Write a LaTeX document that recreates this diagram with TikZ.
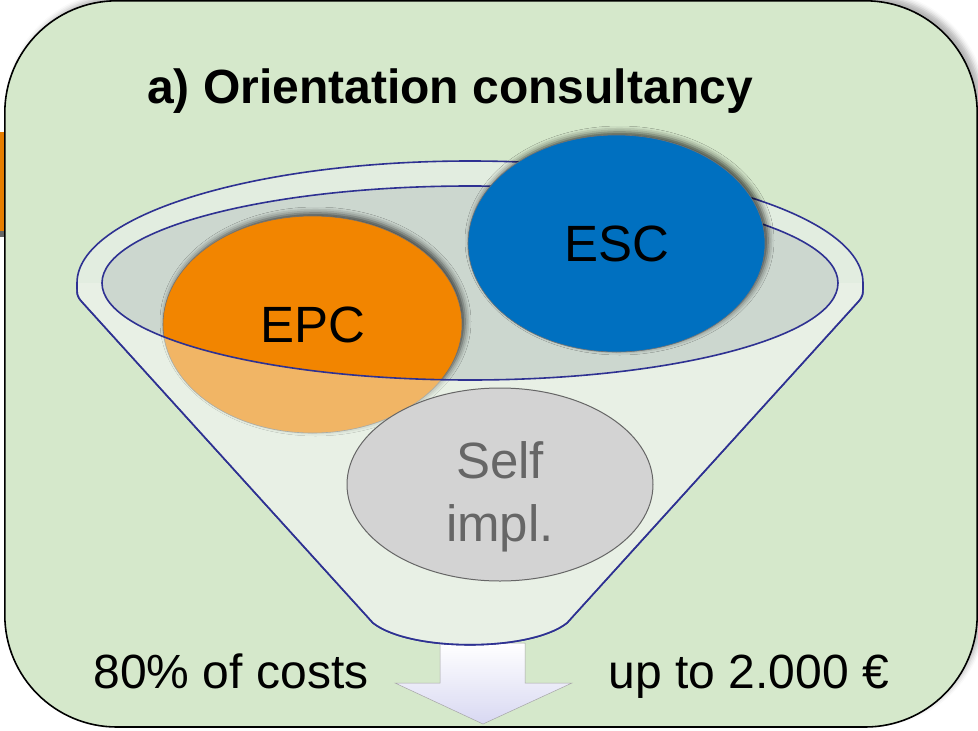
\documentclass[tikz,border=0pt]{standalone}
\usepackage{fontspec}
\setmainfont{Liberation Sans}
\usepackage{tikz}
\usetikzlibrary{shapes,shadows.blur}
\definecolor{boxgreen}{RGB}{213,232,203}
\definecolor{ringfill}{RGB}{226,237,224}
\definecolor{innerfill}{RGB}{204,215,207}
\definecolor{frontfill}{RGB}{240,246,236}
\definecolor{funnelblue}{RGB}{46,49,146}
\definecolor{epcorange}{RGB}{242,133,0}
\definecolor{escblue}{RGB}{0,112,192}
\definecolor{selfgray}{RGB}{211,211,211}
\definecolor{selftext}{RGB}{102,102,102}
\definecolor{arrowlav}{RGB}{216,216,242}

\begin{document}
\begin{tikzpicture}[x=1pt,y=-1pt,inner sep=0pt,
  blob/.style={ellipse,draw=black!55,line width=.6pt},
  funnelline/.style={draw=funnelblue,line width=1.6pt},
  bigtext/.style={font=\fontsize{51}{63}\selectfont}]
\useasboundingbox (0,0) rectangle (978,731);
% Background
\fill[epcorange!95!black] (0,132) rectangle (4,231);
\fill[black!60] (0,231) rectangle (4,237);
\draw[line width=1.6pt,fill=boxgreen,rounded corners=112pt,
  blur shadow={shadow xshift=5pt,shadow yshift=5pt,shadow blur radius=5pt,shadow opacity=30}]
  (4.8,0.8) rectangle (977.2,727);
% Arrow out of the funnel
\draw[draw=black!35,line width=.5pt,top color=white,bottom color=arrowlav]
  (440,643) -- (525,643) -- (525,683) -- (572,683) -- (483,724) -- (395,683) -- (440,683) -- cycle;
% Funnel back
\path[funnelline,fill=ringfill] (82,302) .. controls (77,296) .. (77,283)
  arc[start angle=180,end angle=0,x radius=393pt,y radius=122pt]
  .. controls (863,296) .. (858,302) -- (567,623)
  .. controls (530,652) and (410,652) .. (373,623) -- cycle;
\fill[innerfill] (470,283) ellipse[x radius=368pt,y radius=97pt];
\draw[funnelline] (102,283) arc[start angle=180,end angle=0,x radius=368pt,y radius=97pt];
% Options
\node[blob,fill=epcorange,minimum width=299pt,minimum height=217pt,bigtext,
  blur shadow={shadow xshift=3pt,shadow yshift=3pt,shadow blur radius=6pt,shadow opacity=70}]
  (EPC) at (312.5,324.5) {EPC};
\node[blob,fill=escblue,minimum width=297pt,minimum height=217pt,bigtext,
  blur shadow={shadow xshift=3pt,shadow yshift=3pt,shadow blur radius=6pt,shadow opacity=70}]
  (ESC) at (616.5,243.5) {ESC};
% Funnel front
\fill[frontfill,opacity=.43] (77,283) -- (102,283)
  arc[start angle=180,end angle=360,x radius=368pt,y radius=97pt]
  -- (863,283) .. controls (863,296) .. (858,302) -- (567,623)
  .. controls (530,652) and (410,652) .. (373,623) -- (82,302)
  .. controls (77,296) .. (77,283) -- cycle;
\draw[funnelline] (102,283) arc[start angle=180,end angle=360,x radius=368pt,y radius=97pt];
\draw[funnelline] (77,283) .. controls (77,296) .. (82,302) -- (373,623)
  .. controls (410,652) and (530,652) .. (567,623) -- (858,302)
  .. controls (863,296) .. (863,283);
\node[blob,draw=selftext,line width=1pt,fill=selfgray,minimum width=306pt,minimum height=193pt]
  (Self) at (500,484.5) {};
\node[bigtext,text=selftext,align=center] (SelfLabel) at (500,496.5) {Self\\impl.};
% Labels
\node[font=\bfseries\fontsize{48}{58}\selectfont,anchor=base] (Title) at (450,103) {a) Orientation consultancy};
\node[font=\fontsize{48}{58}\selectfont,anchor=base] (Costs) at (231,688) {80\% of costs};
\node[font=\fontsize{48}{58}\selectfont,anchor=base] (Limit) at (749,688) {up to 2.000 €};
\end{tikzpicture}
\end{document}
